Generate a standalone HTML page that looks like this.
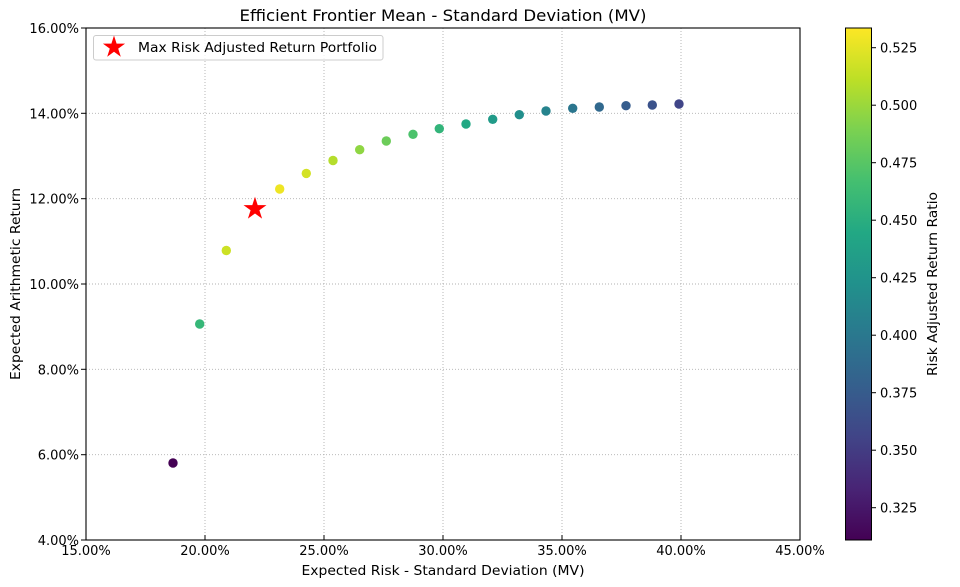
<!DOCTYPE html>
<html>
<head>
<meta charset="utf-8">
<style>
  html, body { margin:0; padding:0; background:#ffffff; }
  svg { display:block; }
  text { font-family: "DejaVu Sans", "Liberation Sans", sans-serif; fill:#000; }
</style>
</head>
<body>
<svg width="960" height="587" viewBox="0 0 960 587" xmlns="http://www.w3.org/2000/svg">
  <defs>
    <linearGradient id="viridis" x1="0" y1="1" x2="0" y2="0">
      <stop offset="0" stop-color="#440154"/>
      <stop offset="0.1" stop-color="#482475"/>
      <stop offset="0.2" stop-color="#414487"/>
      <stop offset="0.3" stop-color="#355f8d"/>
      <stop offset="0.4" stop-color="#2a788e"/>
      <stop offset="0.5" stop-color="#21918c"/>
      <stop offset="0.6" stop-color="#22a884"/>
      <stop offset="0.7" stop-color="#44bf70"/>
      <stop offset="0.8" stop-color="#7ad151"/>
      <stop offset="0.9" stop-color="#bddf26"/>
      <stop offset="1" stop-color="#fde725"/>
    </linearGradient>
  </defs>

  <rect x="0" y="0" width="960" height="587" fill="#ffffff"/>

  <!-- Title -->
  <text x="443" y="21" font-size="16" text-anchor="middle" textLength="407" lengthAdjust="spacingAndGlyphs">Efficient Frontier Mean - Standard Deviation (MV)</text>

  <!-- Grid -->
  <g stroke="#b0b0b0" stroke-width="0.9" stroke-dasharray="1 2" fill="none">
    <line x1="205" y1="28" x2="205" y2="540"/>
    <line x1="324" y1="28" x2="324" y2="540"/>
    <line x1="443" y1="28" x2="443" y2="540"/>
    <line x1="562" y1="28" x2="562" y2="540"/>
    <line x1="681" y1="28" x2="681" y2="540"/>
    <line x1="86" y1="113.3" x2="800" y2="113.3"/>
    <line x1="86" y1="198.7" x2="800" y2="198.7"/>
    <line x1="86" y1="284" x2="800" y2="284"/>
    <line x1="86" y1="369.3" x2="800" y2="369.3"/>
    <line x1="86" y1="454.7" x2="800" y2="454.7"/>
  </g>

  <!-- Scatter points -->
  <g>
    <circle cx="173" cy="463" r="4.7" fill="#440154"/>
    <circle cx="199.7" cy="324" r="4.7" fill="#36b778"/>
    <circle cx="226.3" cy="250.5" r="4.7" fill="#cce125"/>
    <circle cx="279.7" cy="189" r="4.7" fill="#eee524"/>
    <circle cx="306.3" cy="173.4" r="4.7" fill="#d3e226"/>
    <circle cx="333" cy="160.5" r="4.7" fill="#b5dd2c"/>
    <circle cx="359.7" cy="149.7" r="4.7" fill="#8fd643"/>
    <circle cx="386.3" cy="141" r="4.7" fill="#6ccc59"/>
    <circle cx="413" cy="134.3" r="4.7" fill="#4cc26c"/>
    <circle cx="439.3" cy="128.7" r="4.7" fill="#33b47a"/>
    <circle cx="466" cy="124" r="4.7" fill="#22a884"/>
    <circle cx="492.7" cy="119.3" r="4.7" fill="#219b89"/>
    <circle cx="519.3" cy="114.7" r="4.7" fill="#228f8c"/>
    <circle cx="546" cy="111" r="4.7" fill="#26838d"/>
    <circle cx="572.7" cy="108.3" r="4.7" fill="#2b768e"/>
    <circle cx="599.3" cy="107" r="4.7" fill="#31698e"/>
    <circle cx="626" cy="105.7" r="4.7" fill="#365d8d"/>
    <circle cx="652.3" cy="105" r="4.7" fill="#3b528b"/>
    <circle cx="679" cy="104" r="4.7" fill="#404588"/>
  </g>

  <!-- Star (max risk adjusted return) -->
  <polygon fill="#ff0000" points="255,196.7 257.7,205.1 266.5,205.1 259.4,210.3 262.1,218.6 255,213.5 247.9,218.6 250.6,210.3 243.5,205.1 252.3,205.1"/>

  <!-- Axes spines -->
  <rect x="86" y="28" width="714" height="512" fill="none" stroke="#000" stroke-width="1.1"/>

  <!-- Y ticks (outward) -->
  <g stroke="#000" stroke-width="1">
    <line x1="81" y1="28" x2="86" y2="28"/>
    <line x1="81" y1="113.3" x2="86" y2="113.3"/>
    <line x1="81" y1="198.7" x2="86" y2="198.7"/>
    <line x1="81" y1="284" x2="86" y2="284"/>
    <line x1="81" y1="369.3" x2="86" y2="369.3"/>
    <line x1="81" y1="454.7" x2="86" y2="454.7"/>
    <line x1="81" y1="540" x2="86" y2="540"/>
  </g>
  <!-- X ticks (inward) -->
  <g stroke="#000" stroke-width="1">
    <line x1="205" y1="535" x2="205" y2="540"/>
    <line x1="324" y1="535" x2="324" y2="540"/>
    <line x1="443" y1="535" x2="443" y2="540"/>
    <line x1="562" y1="535" x2="562" y2="540"/>
    <line x1="681" y1="535" x2="681" y2="540"/>
  </g>

  <!-- Y tick labels -->
  <g font-size="13" text-anchor="end">
    <text x="79" y="33">16.00%</text>
    <text x="79" y="118.3">14.00%</text>
    <text x="79" y="203.7">12.00%</text>
    <text x="79" y="289">10.00%</text>
    <text x="79" y="374.3">8.00%</text>
    <text x="79" y="459.7">6.00%</text>
    <text x="79" y="545">4.00%</text>
  </g>

  <!-- X tick labels -->
  <g font-size="13" text-anchor="middle">
    <text x="86" y="555">15.00%</text>
    <text x="205" y="555">20.00%</text>
    <text x="324" y="555">25.00%</text>
    <text x="443" y="555">30.00%</text>
    <text x="562" y="555">35.00%</text>
    <text x="681" y="555">40.00%</text>
    <text x="800" y="555">45.00%</text>
  </g>

  <!-- Axis labels -->
  <text x="443" y="575" font-size="13" text-anchor="middle" textLength="283" lengthAdjust="spacingAndGlyphs">Expected Risk - Standard Deviation (MV)</text>
  <text transform="translate(20,284) rotate(-90)" font-size="13" text-anchor="middle" textLength="192" lengthAdjust="spacingAndGlyphs">Expected Arithmetic Return</text>

  <!-- Legend -->
  <rect x="93.5" y="35.5" width="289.5" height="24.5" rx="2.5" ry="2.5" fill="#ffffff" fill-opacity="0.8" stroke="#cccccc" stroke-width="1"/>
  <polygon fill="#ff0000" points="114,35.5 116.6,43.6 125.1,43.6 118.2,48.6 120.8,56.7 114,51.7 107.2,56.7 109.8,48.6 102.9,43.6 111.4,43.6"/>
  <text x="138" y="52" font-size="13" textLength="239" lengthAdjust="spacingAndGlyphs">Max Risk Adjusted Return Portfolio</text>

  <!-- Colorbar -->
  <rect x="845.5" y="28" width="26" height="512" fill="url(#viridis)"/>
  <rect x="845.5" y="28" width="26" height="512" fill="none" stroke="#000" stroke-width="1"/>
  <g stroke="#000" stroke-width="1">
    <line x1="871.5" y1="47.7" x2="876" y2="47.7"/>
    <line x1="871.5" y1="105.2" x2="876" y2="105.2"/>
    <line x1="871.5" y1="162.7" x2="876" y2="162.7"/>
    <line x1="871.5" y1="220.2" x2="876" y2="220.2"/>
    <line x1="871.5" y1="277.7" x2="876" y2="277.7"/>
    <line x1="871.5" y1="335.2" x2="876" y2="335.2"/>
    <line x1="871.5" y1="392.7" x2="876" y2="392.7"/>
    <line x1="871.5" y1="450.2" x2="876" y2="450.2"/>
    <line x1="871.5" y1="507.7" x2="876" y2="507.7"/>
  </g>
  <g font-size="13">
    <text x="880" y="52.5">0.525</text>
    <text x="880" y="110">0.500</text>
    <text x="880" y="167.5">0.475</text>
    <text x="880" y="225">0.450</text>
    <text x="880" y="282.5">0.425</text>
    <text x="880" y="340">0.400</text>
    <text x="880" y="397.5">0.375</text>
    <text x="880" y="455">0.350</text>
    <text x="880" y="512.5">0.325</text>
  </g>
  <text transform="translate(937,284) rotate(-90)" font-size="13" text-anchor="middle" textLength="184" lengthAdjust="spacingAndGlyphs">Risk Adjusted Return Ratio</text>
</svg>
</body>
</html>
